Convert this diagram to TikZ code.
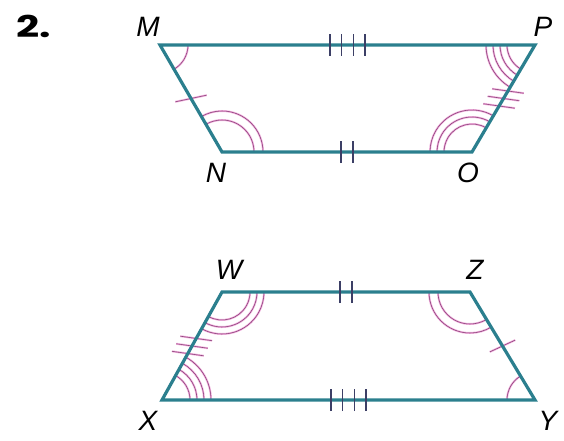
\documentclass[tikz,border=0pt]{standalone}
\usepackage{fontspec}
\usepackage{graphicx}
\setmainfont{Liberation Sans}
\newfontfamily\numfont{Poppins}[BoldFont={* Bold}]
\usetikzlibrary{angles,calc}
\definecolor{sidecol}{HTML}{2B7F8E}
\definecolor{arcpink}{HTML}{EFB0DC}
\definecolor{arcdark}{HTML}{8A3D78}
\definecolor{tickdark}{HTML}{3C3F66}
\newcommand\angmark[2]{%
  \pic[draw=arcpink,line width=2pt,angle radius=#1 pt] {angle=#2};
  \pic[draw=arcdark,line width=0.55pt,angle radius=#1 pt] {angle=#2};}
\begin{document}
\begin{tikzpicture}[x=1pt,y=1pt,
  side/.style={draw=sidecol,line width=3.2pt,line join=miter,line cap=round},
  htick/.style={draw=tickdark,line width=1.3pt},
  stickp/.style={draw=arcpink,line width=2pt},
  stickd/.style={draw=arcdark,line width=0.55pt},
  lab/.style={font=\fontsize{28}{30}\selectfont\itshape,inner sep=0pt}]
\useasboundingbox (0,0) rectangle (564,440);
% vertices
\coordinate (M) at (160,395);
\coordinate (P) at (535,395);
\coordinate (N) at (222,288);
\coordinate (O) at (472,288);
\coordinate (W) at (222,148);
\coordinate (Z) at (470,148);
\coordinate (X) at (162,40);
\coordinate (Y) at (535,40);
% angle marks
\foreach \r in {28} {
  \angmark{\r}{N--M--P}
  \angmark{\r}{Z--Y--X}
}
\foreach \r in {32,41} {
  \angmark{\r}{O--N--M}
  \angmark{\r}{W--Z--Y}
}
\foreach \r in {28,35,42} {
  \angmark{\r}{P--O--N}
  \angmark{\r}{X--W--Z}
}
\foreach \r in {28,35,42,49} {
  \angmark{\r}{M--P--O}
  \angmark{\r}{Y--X--W}
}
% slanted side ticks
\foreach \s in {stickp,stickd} {
  \draw[\s] ($(M)!0.5!(N)+(192:16)$) -- ++(12:32);
  \draw[\s] ($(Z)!0.5!(Y)+(205:14)$) -- ++(25:28);
  \foreach \f in {0.43,0.5,0.57} {
    \draw[\s] ($(O)!\f!(P)+(172:16)$) -- ++(-8:32);
    \draw[\s] ($(X)!\f!(W)+(172:16)$) -- ++(-8:32);
  }
}
% sides
\draw[side] (M) -- (N) -- (O) -- (P) -- cycle;
\draw[side] (W) -- (X) -- (Y) -- (Z) -- cycle;
% horizontal side ticks
\foreach \d in {-17.5,-5.8,5.8,17.5} {
  \draw[htick] ($(M)!0.5!(P)+(\d,-11)$) -- ++(0,22);
  \draw[htick] ($(X)!0.5!(Y)+(\d,-11)$) -- ++(0,22);
}
\foreach \d in {-6,6} {
  \draw[htick] ($(N)!0.5!(O)+(\d,-11)$) -- ++(0,22);
  \draw[htick] ($(W)!0.5!(Z)+(\d,-11)$) -- ++(0,22);
}
% labels
\node[inner sep=0pt,font=\numfont\bfseries\fontsize{30}{32}\selectfont] (num) at (34,414) {\scalebox{1.35}[1]{2.}};
\node[lab] (lM) at (148,413) {M};
\node[lab] (lP) at (543,413) {P};
\node[lab] (lN) at (216,267) {N};
\node[lab] (lO) at (468,267) {O};
\node[lab] (lW) at (229,170) {W};
\node[lab] (lZ) at (475,170) {Z};
\node[lab] (lX) at (148,19) {X};
\node[lab] (lY) at (548,19) {Y};
\end{tikzpicture}
\end{document}
